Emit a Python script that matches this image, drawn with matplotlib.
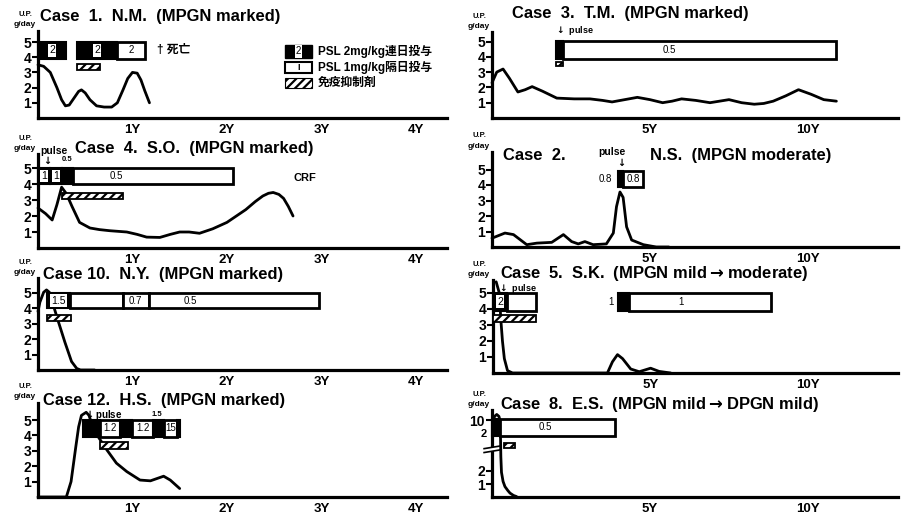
import matplotlib
matplotlib.use('Agg')
import matplotlib.pyplot as plt
from matplotlib.patches import Rectangle

FAM = ['Liberation Sans', 'Noto Sans CJK JP', 'DejaVu Sans']
NARROW = ['Liberation Sans Narrow', 'Liberation Sans', 'DejaVu Sans']
plt.rcParams['font.family'] = FAM
plt.rcParams['font.weight'] = 'bold'
plt.rcParams['hatch.linewidth'] = 1.6
plt.rcParams['mathtext.fontset'] = 'dejavusans'

W, H = 905, 525

# ------------------------------------------------------------------ data
left_ticks = [1, 2, 3, 4]
left_labels = ['1Y', '2Y', '3Y', '4Y']
right_ticks = [5, 10]
right_labels = ['5Y', '10Y']
up_ticks = [1, 2, 3, 4, 5]

# Case 1  N.M.
case1_t = [0, 0.06, 0.13, 0.20, 0.25, 0.29, 0.33, 0.38, 0.43, 0.46, 0.50, 0.55,
           0.62, 0.70, 0.78, 0.84, 0.90, 0.95, 1.00, 1.05, 1.09, 1.13, 1.18]
case1_up = [3.5, 3.4, 3.0, 2.0, 1.2, 0.8, 0.85, 1.3, 1.75, 1.85, 1.65, 1.2,
            0.8, 0.72, 0.72, 1.0, 1.85, 2.6, 3.0, 2.95, 2.5, 1.8, 1.0]
case1_psl = [(0.0, 0.30, 'D', '2'), (0.41, 0.84, 'D', '2'), (0.84, 1.13, 'A', '2')]
case1_imm = [(0.41, 0.66)]

# Case 3  T.M.
case3_t = [0, 0.15, 0.35, 0.55, 0.82, 1.05, 1.27, 1.6, 2.05, 2.6, 3.1, 3.5, 3.8,
           4.2, 4.6, 5.0, 5.4, 5.7, 6.0, 6.45, 6.9, 7.2, 7.5, 7.9, 8.3, 8.6, 8.9,
           9.3, 9.7, 10.1, 10.5, 10.9]
case3_up = [2.3, 3.0, 3.2, 2.6, 1.7, 1.85, 2.05, 1.75, 1.3, 1.25, 1.25, 1.15, 1.05,
            1.2, 1.35, 1.2, 1.0, 1.1, 1.25, 1.15, 1.0, 1.1, 1.2, 1.0, 0.9, 0.95, 1.1,
            1.45, 1.85, 1.55, 1.2, 1.1]
case3_psl = [(2.03, 2.25, 'D', ''), (2.25, 10.9, 'A', '0.5', 5.6)]
case3_imm = [(2.03, 2.25)]

# Case 4  S.O.
case4_t = [0, 0.08, 0.15, 0.20, 0.25, 0.30, 0.36, 0.44, 0.55, 0.65, 0.76, 0.94,
           1.05, 1.15, 1.29, 1.40, 1.50, 1.60, 1.71, 1.85, 2.0, 2.2, 2.30, 2.38,
           2.44, 2.49, 2.55, 2.60, 2.65, 2.70]
case4_up = [2.5, 2.15, 1.75, 2.7, 3.8, 3.4, 2.6, 1.6, 1.25, 1.15, 1.08, 1.0,
            0.85, 0.68, 0.66, 0.85, 1.0, 1.0, 0.92, 1.2, 1.6, 2.4, 2.9, 3.25,
            3.42, 3.47, 3.35, 3.1, 2.6, 2.0]
case4_psl = [(0.0, 0.13, 'D', '1'), (0.13, 0.25, 'D', '1'), (0.25, 0.37, 'D', ''),
             (0.37, 2.06, 'A', '0.5', 0.83)]
case4_imm = [(0.25, 0.90)]

# Case 2  N.S.
case2_t = [0, 0.41, 0.68, 1.1, 1.42, 1.89, 2.26, 2.52, 2.73, 2.94, 3.2, 3.62,
           3.84, 3.94, 4.05, 4.15, 4.26, 4.42, 4.79, 5.2, 5.6]
case2_up = [0.57, 0.9, 0.8, 0.15, 0.25, 0.3, 0.8, 0.35, 0.2, 0.35, 0.15, 0.2,
            0.9, 2.6, 3.55, 3.2, 1.3, 0.45, 0.15, 0.0, 0.0]
case2_psl = [(3.99, 4.15, 'D', ''), (4.15, 4.78, 'A', '0.8')]
case2_imm = []

# Case 10  N.Y.
case10_t = [0, 0.02, 0.06, 0.09, 0.12, 0.21, 0.285, 0.355, 0.41, 0.45, 0.6]
case10_up = [3.8, 4.4, 5.05, 5.2, 5.05, 3.25, 1.8, 0.55, 0.1, 0.0, 0.0]
case10_psl = [(0.09, 0.34, 'D', '1.5'), (0.34, 0.90, 'A', ''), (0.90, 1.17, 'A', '0.7'),
              (1.17, 2.98, 'A', '0.5', 1.61)]
case10_imm = [(0.09, 0.35)]

# Case 5  S.K.
case5_t = [0.1, 0.2, 0.25, 0.3, 0.36, 0.46, 0.62, 3.63, 3.79, 3.95, 4.11, 4.37,
           4.64, 5.0, 5.27, 5.64]
case5_up = [5.7, 5.0, 3.3, 2.0, 0.9, 0.15, 0.0, 0.0, 0.7, 1.15, 0.9, 0.25,
            0.08, 0.3, 0.1, 0.0]
case5_psl = [(0.0, 0.44, 'D', '2'), (0.44, 1.36, 'A', ''), (3.96, 4.3, 'D', ''),
             (4.3, 8.83, 'A', '1', 5.95)]
case5_imm = [(0.0, 1.36)]

# Case 12  H.S.
case12_t = [0, 0.30, 0.35, 0.40, 0.43, 0.46, 0.51, 0.54, 0.59, 0.66, 0.73, 0.83,
            0.94, 1.08, 1.19, 1.33, 1.40, 1.50]
case12_up = [0, 0, 1.0, 3.25, 4.55, 5.3, 5.5, 5.3, 4.35, 3.7, 3.05, 2.2,
             1.65, 1.1, 1.05, 1.35, 1.1, 0.55]
case12_psl = [(0.48, 0.66, 'D', ''), (0.66, 0.87, 'A', '1.2'), (0.87, 1.0, 'D', ''),
              (1.0, 1.22, 'A', '1.2'), (1.22, 1.33, 'D', ''), (1.33, 1.47, 'A', '15'),
              (1.47, 1.5, 'D', '')]
case12_imm = [(0.66, 0.95)]

# Case 8  E.S.  (broken axis: 10 g/day drawn at 5.9)
case8_ticks = [1, 2, 5.9]
case8_labels = ['1', '2', '10']
case8_t = [0.03, 0.08, 0.15, 0.22, 0.26, 0.27, 0.28, 0.30, 0.35, 0.41, 0.50,
           0.57, 0.68, 0.78]
case8_up = [5.7, 6.2, 6.35, 6.2, 5.8, 4.5, 3.1, 1.9, 1.2, 0.8, 0.5, 0.3, 0.12, 0.03]
case8_psl = [(0.0, 0.26, 'D', ''), (0.26, 3.89, 'A', '0.5', 1.68)]
case8_imm = [(0.37, 0.73)]

# ------------------------------------------------------------------ drawing
fig = plt.figure(figsize=(W / 100, H / 100), dpi=100)

DOWN = r'$\mathbf{\downarrow}$'
RIGHT = r'$\mathbf{\rightarrow}$'
TITLE_SIZE = 11.9


def fx(x):
    return x / W


def fy(y):
    return 1 - y / H


def ftext(x, y, s, size=8, ha='left', va='center', weight='bold', **kw):
    fig.text(fx(x), fy(y), s, fontsize=size, ha=ha, va=va, fontweight=weight, **kw)


def panel(x0, x1, base, ppu, xmax, ytop, t, up, psl, imm, xticks, xlabels,
          box_y=(3.9, 5.0), imm_y=(3.15, 3.55), yticks=up_ticks, ylabels=None):
    h = ytop * ppu
    ax = fig.add_axes([fx(x0), fy(base), (x1 - x0) / W, h / H])
    ax.set_xlim(0, xmax)
    ax.set_ylim(0, ytop)
    ax.patch.set_alpha(0)
    for s in ['top', 'right']:
        ax.spines[s].set_visible(False)
    for s in ['left', 'bottom']:
        ax.spines[s].set_linewidth(2.3)
    ax.set_xticks(xticks)
    ax.set_xticklabels(xlabels, fontsize=9.5, fontweight='bold')
    ax.set_yticks(yticks)
    ax.set_yticklabels(ylabels if ylabels else [str(v) for v in yticks],
                       fontsize=10, fontweight='bold', family=NARROW)
    ax.tick_params(axis='y', length=4, width=1.5, pad=1)
    ax.tick_params(axis='x', length=0, pad=4)
    mid = (box_y[0] + box_y[1]) / 2
    for seg in psl:
        s, e, kind, lab = seg[:4]
        lx = seg[4] if len(seg) > 4 else (s + e) / 2
        if kind == 'D':
            ax.add_patch(Rectangle((s, box_y[0]), e - s, box_y[1] - box_y[0],
                                   fc='black', ec='black', lw=1.5, clip_on=False, zorder=4))
            if lab:
                ax.text(lx, mid, lab, fontsize=7.5, ha='center', va='center', zorder=6,
                        fontweight='normal',
                        bbox=dict(fc='white', ec='none', pad=1.0), family=NARROW)
        else:
            ax.add_patch(Rectangle((s, box_y[0]), e - s, box_y[1] - box_y[0],
                                   fc='white', ec='black', lw=2.0, clip_on=False, zorder=4))
            if lab:
                ax.text(lx, mid, lab, fontsize=7, ha='center', va='center', zorder=6,
                        fontweight='normal')
    for s, e in imm:
        ax.add_patch(Rectangle((s, imm_y[0]), e - s, imm_y[1] - imm_y[0], fc='white',
                               ec='black', lw=1.3, hatch='////', clip_on=False, zorder=4))
    ax.plot(t, up, color='black', lw=2, clip_on=False, solid_joinstyle='round',
            solid_capstyle='round', zorder=3)
    return ax


def uplabel(x0, ytop_px):
    ftext(x0 - 6, ytop_px - 16, 'U.P.', size=5.5, ha='right')
    ftext(x0 - 2, ytop_px - 6, 'g/day', size=6, ha='right')


LX0, LX1, LXMAX = 38, 447, 4.33
RX0, RX1, RXMAX = 492, 898, 12.85

# Case 1
ax1 = panel(LX0, LX1, 118, 15.2, LXMAX, 5.7, case1_t, case1_up, case1_psl, case1_imm,
            left_ticks, left_labels)
ax1.text(1.26, 4.45, '† 死亡', fontsize=8.5, ha='left', va='center')
ftext(40, 17, 'Case  1.  N.M.  (MPGN marked)', size=TITLE_SIZE)
uplabel(LX0, 31)

# legend
fig.add_artist(Rectangle((fx(285), fy(58)), 27 / W, 13 / H, transform=fig.transFigure,
                         fc='black', ec='black'))
ftext(298.5, 51.5, '2', size=7, ha='center', weight='normal',
      bbox=dict(fc='white', ec='none', pad=0.9))
fig.add_artist(Rectangle((fx(285), fy(73)), 27 / W, 11 / H, transform=fig.transFigure,
                         fc='white', ec='black', lw=1.5))
ftext(298.5, 67.5, 'I', size=6.5, ha='center')
fig.add_artist(Rectangle((fx(285), fy(88)), 27 / W, 10 / H, transform=fig.transFigure,
                         fc='white', ec='black', lw=0.8, hatch='////'))
ftext(318, 52, 'PSL 2mg/kg連日投与', size=8.5)
ftext(318, 67.5, 'PSL 1mg/kg隔日投与', size=8.5)
ftext(318, 83, '免疫抑制剤', size=8.5)

# Case 3
ax3 = panel(RX0, RX1, 118, 15.3, RXMAX, 5.6, case3_t, case3_up, case3_psl, case3_imm,
            right_ticks, right_labels, box_y=(3.87, 5.0), imm_y=(3.38, 3.66))
ax3.text(2.0, 5.72, DOWN + ' pulse', fontsize=6.5, ha='left', va='center')
ftext(512, 13.5, 'Case  3.  T.M.  (MPGN marked)', size=TITLE_SIZE)
uplabel(RX0, 32)

# Case 4
ax4 = panel(LX0, LX1, 248, 16, LXMAX, 5.9, case4_t, case4_up, case4_psl, case4_imm,
            left_ticks, left_labels, box_y=(4.0, 5.0), imm_y=(3.05, 3.45))
ax4.text(0.17, 6.05, 'pulse', fontsize=7.5, ha='center', va='center')
ax4.text(0.085, 5.5, DOWN, fontsize=7, ha='center', va='center')
ax4.text(0.31, 5.55, '0.5', fontsize=5.5, ha='center', va='center', family=NARROW)
ax4.text(2.7, 4.4, 'CRF', fontsize=8, ha='left', va='center')
ftext(75, 149, 'Case  4.  S.O.  (MPGN marked)', size=TITLE_SIZE)
uplabel(LX0, 154)

# Case 2
ax2 = panel(RX0, RX1, 247, 15.5, RXMAX, 6.1, case2_t, case2_up, case2_psl, case2_imm,
            right_ticks, right_labels, box_y=(3.9, 4.9))
ax2.text(3.8, 6.1, 'pulse', fontsize=7.5, ha='center', va='center')
ax2.text(4.05, 5.45, DOWN, fontsize=7, ha='center', va='center')
ax2.text(3.58, 4.4, '0.8', fontsize=7, ha='center', va='center', fontweight='normal')
ftext(503, 156, 'Case  2.', size=TITLE_SIZE)
ftext(650, 155, 'N.S.  (MPGN moderate)', size=TITLE_SIZE)
uplabel(RX0, 152)

# Case 10
ax10 = panel(LX0, LX1, 370, 15.4, LXMAX, 6.0, case10_t, case10_up, case10_psl, case10_imm,
             left_ticks, left_labels, box_y=(4.0, 5.0), imm_y=(3.2, 3.55))
ftext(43, 275, 'Case 10.  N.Y.  (MPGN marked)', size=TITLE_SIZE)
uplabel(LX0, 278)

# Case 5
ax5 = panel(RX0 + 1, RX1, 373, 16, RXMAX, 5.8, case5_t, case5_up, case5_psl, case5_imm,
            right_ticks, right_labels, box_y=(3.9, 5.0), imm_y=(3.2, 3.6))
ax5.text(0.15, 5.3, DOWN + ' pulse', fontsize=6.5, ha='left', va='center')
ax5.text(3.73, 4.45, '1', fontsize=7, ha='center', va='center', fontweight='normal')
ftext(500, 273.5, 'Case  5.  S.K.  (MPGN mild' + RIGHT + 'moderate)', size=TITLE_SIZE)
uplabel(RX0, 280)

# Case 12
ax12 = panel(LX0, LX1, 497, 15.4, LXMAX, 6.1, case12_t, case12_up, case12_psl, case12_imm,
             left_ticks, left_labels, box_y=(3.9, 5.0), imm_y=(3.1, 3.6))
ax12.text(0.48, 5.35, DOWN + 'pulse', fontsize=7, ha='left', va='center')
ax12.text(1.26, 5.35, '1.5', fontsize=5.5, ha='center', va='center', family=NARROW)
ftext(43, 400, 'Case 12.  H.S.  (MPGN marked)', size=TITLE_SIZE)
uplabel(LX0, 403)

# Case 8
ax8 = panel(RX0, RX1, 497, 13, RXMAX, 6.7, case8_t, case8_up, case8_psl, case8_imm,
            right_ticks, right_labels, box_y=(4.7, 6.0), imm_y=(3.77, 4.15),
            yticks=case8_ticks, ylabels=case8_labels)
ax8.text(-0.15, 4.85, '2', fontsize=8, ha='right', va='center', family=NARROW)
ax8.add_patch(Rectangle((-0.12, 3.52), 0.24, 0.3, fc='white', ec='none',
                        clip_on=False, zorder=5))
ax8.plot([-0.25, 0.25], [3.42, 3.62], color='black', lw=1.2, clip_on=False, zorder=6)
ax8.plot([-0.25, 0.25], [3.72, 3.92], color='black', lw=1.2, clip_on=False, zorder=6)
ftext(500, 405, 'Case  8.  E.S.  (MPGN mild' + RIGHT + 'DPGN mild)', size=TITLE_SIZE)
uplabel(RX0, 410)

fig.savefig('out.png', dpi=100)
